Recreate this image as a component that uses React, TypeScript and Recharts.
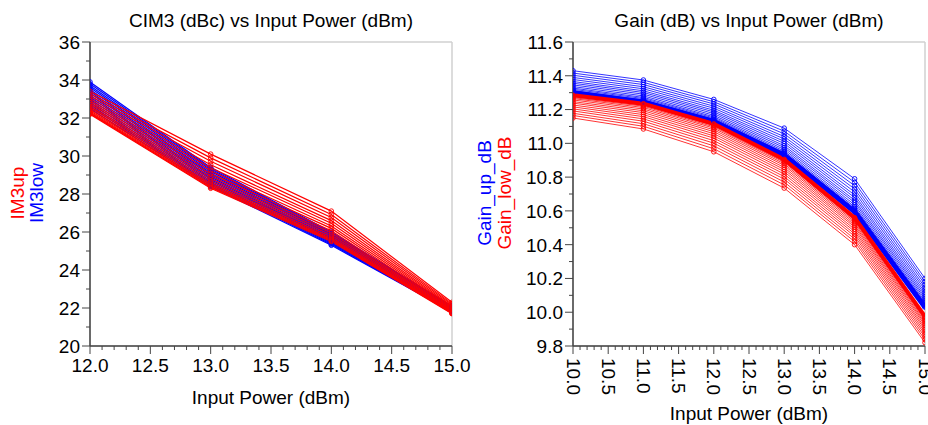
import React from 'react';
import { LineChart, Line, XAxis, YAxis, CartesianGrid } from 'recharts';

const FONT = "'Liberation Sans', Arial, sans-serif";
const BLUE = '#0000ff';
const RED = '#ff0000';
const AX = '#444';
const GRID = '#d0d0d0';

// left panel: CIM3 vs input power
const cimX = [12, 13, 14, 15];
const cimXMajor = [12, 12.5, 13, 13.5, 14, 14.5, 15];
const cimYMajor = [20, 22, 24, 26, 28, 30, 32, 34, 36];

// IM3low (blue), one row per sweep trace, values at 12/13/14/15 dBm
const im3low = [
  [32.5, 28.4, 25.3, 21.8],
  [32.6, 28.47, 25.35, 21.82],
  [32.7, 28.54, 25.4, 21.84],
  [32.8, 28.61, 25.45, 21.86],
  [32.9, 28.69, 25.5, 21.89],
  [33.0, 28.76, 25.55, 21.91],
  [33.1, 28.83, 25.6, 21.93],
  [33.2, 28.9, 25.65, 21.95],
  [33.3, 28.97, 25.7, 21.97],
  [33.4, 29.04, 25.75, 21.99],
  [33.5, 29.11, 25.8, 22.01],
  [33.6, 29.19, 25.85, 22.04],
  [33.7, 29.26, 25.9, 22.06],
  [33.8, 29.33, 25.95, 22.08],
  [33.9, 29.4, 26.0, 22.1],
];

// IM3up (red)
const im3up = [
  [32.2, 28.3, 25.5, 21.7],
  [32.24, 28.35, 25.55, 21.72],
  [32.27, 28.41, 25.6, 21.74],
  [32.32, 28.48, 25.66, 21.76],
  [32.38, 28.57, 25.74, 21.79],
  [32.45, 28.68, 25.84, 21.83],
  [32.54, 28.8, 25.95, 21.87],
  [32.62, 28.93, 26.06, 21.91],
  [32.72, 29.07, 26.19, 21.96],
  [32.81, 29.22, 26.32, 22.01],
  [32.92, 29.38, 26.46, 22.06],
  [33.03, 29.54, 26.6, 22.11],
  [33.15, 29.72, 26.76, 22.17],
  [33.27, 29.9, 26.92, 22.23],
  [33.4, 30.1, 27.1, 22.3],
];

// right panel: gain vs input power
const gainX = [10, 11, 12, 13, 14, 15];
const gainXMajor = [10, 10.5, 11, 11.5, 12, 12.5, 13, 13.5, 14, 14.5, 15];
const gainYMajor = [9.8, 10.0, 10.2, 10.4, 10.6, 10.8, 11.0, 11.2, 11.4, 11.6];

// Gain_up_dB (blue)
const gainUp = [
  [11.3, 11.245, 11.13, 10.93, 10.595, 10.03],
  [11.304, 11.249, 11.134, 10.935, 10.601, 10.035],
  [11.308, 11.253, 11.138, 10.94, 10.607, 10.04],
  [11.313, 11.258, 11.143, 10.946, 10.615, 10.047],
  [11.32, 11.265, 11.15, 10.954, 10.624, 10.056],
  [11.327, 11.272, 11.157, 10.964, 10.636, 10.066],
  [11.336, 11.281, 11.166, 10.975, 10.65, 10.078],
  [11.346, 11.291, 11.176, 10.986, 10.663, 10.09],
  [11.356, 11.301, 11.186, 10.999, 10.679, 10.103],
  [11.366, 11.311, 11.196, 11.012, 10.694, 10.117],
  [11.378, 11.323, 11.208, 11.026, 10.712, 10.132],
  [11.39, 11.335, 11.22, 11.04, 10.73, 10.147],
  [11.403, 11.348, 11.233, 11.056, 10.749, 10.164],
  [11.416, 11.361, 11.246, 11.072, 10.769, 10.181],
  [11.43, 11.375, 11.26, 11.09, 10.79, 10.2],
];

// Gain_low_dB (red)
const gainLow = [
  [11.285, 11.235, 11.115, 10.905, 10.56, 9.975],
  [11.281, 11.23, 11.11, 10.9, 10.555, 9.97],
  [11.277, 11.226, 11.105, 10.895, 10.55, 9.966],
  [11.271, 11.22, 11.098, 10.888, 10.544, 9.959],
  [11.265, 11.212, 11.09, 10.879, 10.536, 9.952],
  [11.257, 11.203, 11.08, 10.869, 10.526, 9.942],
  [11.247, 11.193, 11.069, 10.857, 10.515, 9.932],
  [11.238, 11.182, 11.057, 10.845, 10.504, 9.921],
  [11.227, 11.17, 11.044, 10.832, 10.491, 9.908],
  [11.216, 11.158, 11.031, 10.818, 10.478, 9.896],
  [11.204, 11.145, 11.016, 10.803, 10.464, 9.882],
  [11.192, 11.131, 11.001, 10.788, 10.45, 9.868],
  [11.178, 11.116, 10.985, 10.771, 10.434, 9.853],
  [11.165, 11.101, 10.968, 10.754, 10.418, 9.837],
  [11.15, 11.085, 10.95, 10.735, 10.4, 9.82],
];

const buildRows = (xs: number[], blue: number[][], red: number[][]) =>
  xs.map((x, i) => {
    const row: any = { x };
    blue.forEach((t, k) => (row['b' + k] = t[i]));
    red.forEach((t, k) => (row['r' + k] = t[i]));
    return row;
  });

const cimRows = buildRows(cimX, im3low, im3up);
const gainRows = buildRows(gainX, gainUp, gainLow);

// minor tick positions between domain ends
const steps = (a: number, b: number, s: number) => {
  const out: number[] = [];
  for (let i = 0; a + i * s <= b + 1e-9; i++) out.push(+(a + i * s).toFixed(2));
  return out;
};

const near = (v: number, list: number[]) => list.some((m) => Math.abs(m - v) < 1e-6);

const txt = { fontFamily: FONT, fontSize: 19, fill: '#000' };

const XTick = (p: any) => {
  const v = p.payload.value;
  const major = near(v, p.majors);
  return (
    <g>
      <line x1={p.x} x2={p.x} y1={p.y} y2={p.y + (major ? 8 : 4)} stroke={AX} />
      {major && !p.rotated && (
        <text x={p.x} y={p.y + 26} textAnchor="middle" {...txt}>
          {v.toFixed(1)}
        </text>
      )}
      {major && p.rotated && (
        <text
          x={p.x}
          y={p.y + 12}
          transform={`rotate(90 ${p.x} ${p.y + 12})`}
          dominantBaseline="central"
          {...txt}
        >
          {v.toFixed(1)}
        </text>
      )}
    </g>
  );
};

const YTick = (p: any) => {
  const v = p.payload.value;
  const major = near(v, p.majors);
  return (
    <g>
      <line x1={p.x} x2={p.x - (major ? 8 : 4)} y1={p.y} y2={p.y} stroke={AX} />
      {major && (
        <text x={p.x - 10} y={p.y} dy="0.36em" textAnchor="end" {...txt}>
          {p.digits ? v.toFixed(p.digits) : v}
        </text>
      )}
    </g>
  );
};

const traceLines = (n: number, prefix: string, color: string, width: number, thick: number) =>
  Array.from({ length: n }, (_, k) => (
    <Line
      key={prefix + k}
      dataKey={prefix + k}
      type="linear"
      stroke={color}
      strokeWidth={k === 0 ? thick : width}
      dot={{ r: 2.3, fill: 'none', stroke: color, strokeWidth: 0.9 }}
      activeDot={false}
      isAnimationActive={false}
    />
  ));

export default function App() {
  return (
    <div style={{ position: 'absolute', left: 0, top: 0, width: 928, height: 425, background: '#fff' }}>
      <div style={{ position: 'absolute', left: 0, top: 0 }}>
        <LineChart width={480} height={425} data={cimRows} margin={{ top: 42, right: 28, bottom: 0, left: 0 }}>
          <XAxis xAxisId="g" orientation="top" type="number" dataKey="x" domain={[12, 15]} ticks={cimXMajor} height={0} tick={false} tickLine={false} axisLine={{ stroke: '#666', strokeWidth: 1.5 }} allowDataOverflow />
          <YAxis yAxisId="g" orientation="right" type="number" domain={[20, 36]} ticks={cimYMajor} width={0} tick={false} tickLine={false} axisLine={{ stroke: '#666', strokeWidth: 1.5 }} allowDataOverflow />
          <CartesianGrid xAxisId="g" yAxisId="g" stroke={GRID} strokeWidth={1.5} />
          <XAxis
            type="number"
            dataKey="x"
            domain={[12, 15]}
            ticks={steps(12, 15, 0.1)}
            interval={0}
            height={79}
            tickSize={0}
            tickMargin={0}
            tickLine={false}
            axisLine={{ stroke: AX, strokeWidth: 1.5 }}
            tick={(p: any) => <XTick {...p} majors={cimXMajor} />}
            allowDataOverflow
          />
          <YAxis
            type="number"
            domain={[20, 36]}
            ticks={steps(20, 36, 1)}
            interval={0}
            width={90}
            tickSize={0}
            tickMargin={0}
            tickLine={false}
            axisLine={{ stroke: AX, strokeWidth: 1.5 }}
            tick={(p: any) => <YTick {...p} majors={cimYMajor} digits={0} />}
            allowDataOverflow
          />
          {traceLines(im3low.length, 'b', BLUE, 1.2, 1.2)}
          {traceLines(im3up.length, 'r', RED, 1.2, 1.2)}
          <text x={271} y={27} textAnchor="middle" {...txt}>CIM3 (dBc) vs Input Power (dBm)</text>
          <text x={271} y={404} textAnchor="middle" {...txt}>Input Power (dBm)</text>
          <text x={17} y={193} transform="rotate(-90 17 193)" textAnchor="middle" dominantBaseline="central" {...txt} fill={RED}>IM3up</text>
          <text x={36} y={193} transform="rotate(-90 36 193)" textAnchor="middle" dominantBaseline="central" {...txt} fill={BLUE}>IM3low</text>
        </LineChart>
      </div>
      <div style={{ position: 'absolute', left: 464, top: 0 }}>
        <LineChart width={464} height={425} data={gainRows} margin={{ top: 42, right: 3, bottom: 0, left: 0 }}>
          <XAxis xAxisId="g" orientation="top" type="number" dataKey="x" domain={[10, 15]} ticks={gainXMajor} height={0} tick={false} tickLine={false} axisLine={{ stroke: '#666', strokeWidth: 1.5 }} allowDataOverflow />
          <YAxis yAxisId="g" orientation="right" type="number" domain={[9.8, 11.6]} ticks={gainYMajor} width={0} tick={false} tickLine={false} axisLine={{ stroke: '#666', strokeWidth: 1.5 }} allowDataOverflow />
          <CartesianGrid xAxisId="g" yAxisId="g" stroke={GRID} strokeWidth={1.5} />
          <XAxis
            type="number"
            dataKey="x"
            domain={[10, 15]}
            ticks={steps(10, 15, 0.1)}
            interval={0}
            height={79}
            tickSize={0}
            tickMargin={0}
            tickLine={false}
            axisLine={{ stroke: AX, strokeWidth: 1.5 }}
            tick={(p: any) => <XTick {...p} majors={gainXMajor} rotated />}
            allowDataOverflow
          />
          <YAxis
            type="number"
            domain={[9.8, 11.6]}
            ticks={steps(9.8, 11.6, 0.1)}
            interval={0}
            width={109}
            tickSize={0}
            tickMargin={0}
            tickLine={false}
            axisLine={{ stroke: AX, strokeWidth: 1.5 }}
            tick={(p: any) => <YTick {...p} majors={gainYMajor} digits={1} />}
            allowDataOverflow
          />
          {traceLines(gainUp.length, 'b', BLUE, 0.8, 5)}
          {traceLines(gainLow.length, 'r', RED, 0.8, 4)}
          <text x={285} y={27} textAnchor="middle" {...txt}>Gain (dB) vs Input Power (dBm)</text>
          <text x={285} y={420} textAnchor="middle" {...txt}>Input Power (dBm)</text>
          <text x={20} y={193} transform="rotate(-90 20 193)" textAnchor="middle" dominantBaseline="central" {...txt} fill={BLUE}>Gain_up_dB</text>
          <text x={40} y={193} transform="rotate(-90 40 193)" textAnchor="middle" dominantBaseline="central" {...txt} fill={RED}>Gain_low_dB</text>
        </LineChart>
      </div>
    </div>
  );
}
